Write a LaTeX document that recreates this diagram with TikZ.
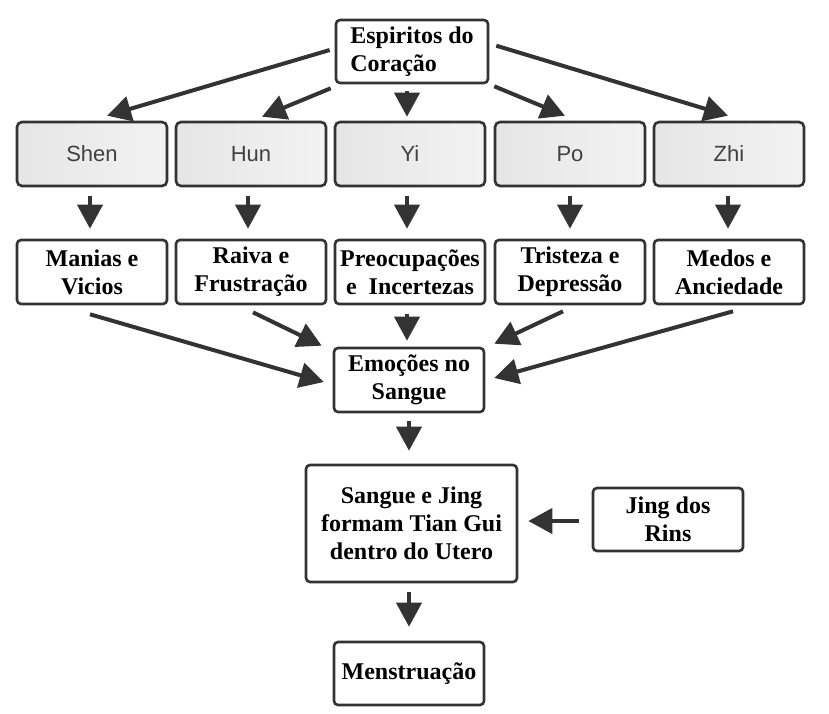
\documentclass[tikz,border=0pt]{standalone}
\usepackage{fontspec}
\setmainfont{Liberation Serif}
\newfontfamily\grayfont{Liberation Sans}
\usetikzlibrary{arrows.meta,calc}
\definecolor{linec}{HTML}{333333}
\definecolor{graytext}{HTML}{404040}
\tikzset{
  wbox/.style={draw=linec, line width=2.6pt, rounded corners=4pt, fill=white,
    minimum width=150pt, minimum height=64pt, inner sep=0pt, align=center,
    font=\bfseries\fontsize{24}{28}\selectfont, text=black},
  gbox/.style={draw=linec, line width=2.6pt, rounded corners=5pt,
    left color=black!10, right color=black!5,
    minimum width=150pt, minimum height=64pt, inner sep=0pt,
    font=\grayfont\fontsize{22}{26}\selectfont, text=graytext},
  arr/.style={draw=linec, line width=4pt, -{Triangle[length=24pt,width=25pt]}},
}
\begin{document}
\begin{tikzpicture}[x=1pt,y=-1pt]
\useasboundingbox (0,0) rectangle (829,713);
% top
\node[wbox, minimum width=152pt, minimum height=63pt] (esp) at (412,51.5)
  {\begin{tabular}{@{}l@{}}Espiritos do\\Coração\end{tabular}};
% row 1
\node[gbox] (shen) at (92,154) {Shen};
\node[gbox] (hun) at (251,154) {Hun};
\node[gbox] (yi) at (410,154) {Yi};
\node[gbox] (po) at (570,154) {Po};
\node[gbox] (zhi) at (729,154) {Zhi};
% row 2
\node[wbox] (manias) at (92,272) {Manias e\\Vicios};
\node[wbox] (raiva) at (251,272) {Raiva e\\Frustração};
\node[wbox] (preo) at (410,272) {Preocupações\\e\ \ Incertezas};
\node[wbox] (trist) at (570,272) {Tristeza e\\Depressão};
\node[wbox] (medos) at (729,272) {Medos e\\Anciedade};
% lower
\node[wbox] (emo) at (409,380) {Emoções no\\Sangue};
\node[wbox, minimum width=211pt, minimum height=117pt] (sangue) at (411.5,523.5)
  {Sangue e Jing\\formam Tian Gui\\dentro do Utero};
\node[wbox, minimum height=63pt] (jing) at (668,519.5) {Jing dos\\Rins};
\node[wbox, minimum height=63pt] (mens) at (409,673.5) {Menstruação};
% arrows from top
\draw[arr] ($(esp.west)+(-5,-1.5)$) -- ($(shen.north)+(15,-5)$);
\draw[arr] ($(esp.south west)+(-4,4)$) -- ($(hun.north)+(11,-4)$);
\draw[arr] ($(esp.south)+(-5,7)$) -- ($(yi.north)+(-3,-4)$);
\draw[arr] ($(esp.south east)+(5,2)$) -- ($(po.north)+(-5,-5)$);
\draw[arr] ($(esp.north east)+(7,27)$) -- ($(zhi.north)+(-1,-5)$);
% row1 -> row2
\draw[arr] ($(shen.south)+(-2,9)$) -- ($(manias.north)+(-2,-10)$);
\draw[arr] ($(hun.south)+(-3,9)$) -- ($(raiva.north)+(-3,-10)$);
\draw[arr] ($(yi.south)+(-3,9)$) -- ($(preo.north)+(-3,-10)$);
\draw[arr] ($(po.south)+(0,9)$) -- ($(trist.north)+(0,-10)$);
\draw[arr] ($(zhi.south)+(-1,9)$) -- ($(medos.north)+(-1,-10)$);
% row2 -> emo
\draw[arr] ($(manias.south)+(-2,9)$) -- ($(emo.west)+(-9,2)$);
\draw[arr] ($(raiva.south)+(2,7)$) -- ($(emo.north west)+(-11,-1)$);
\draw[arr] ($(preo.south)+(-3,9)$) -- ($(emo.north)+(-2,-6)$);
\draw[arr] ($(trist.south)+(-7,6)$) -- ($(emo.north east)+(9,-3)$);
\draw[arr] ($(medos.south)+(4,6)$) -- ($(emo.east)+(9,-2)$);
% lower chain
\draw[arr] ($(emo.south)+(0,8)$) -- ($(sangue.north)+(-2.5,-13)$);
\draw[arr] ($(jing.west)+(-13,1.5)$) -- ($(sangue.east)+(10,-2.5)$);
\draw[arr] ($(sangue.south)+(-2.5,9)$) -- ($(mens.north)+(0,-14)$);
\end{tikzpicture}
\end{document}
